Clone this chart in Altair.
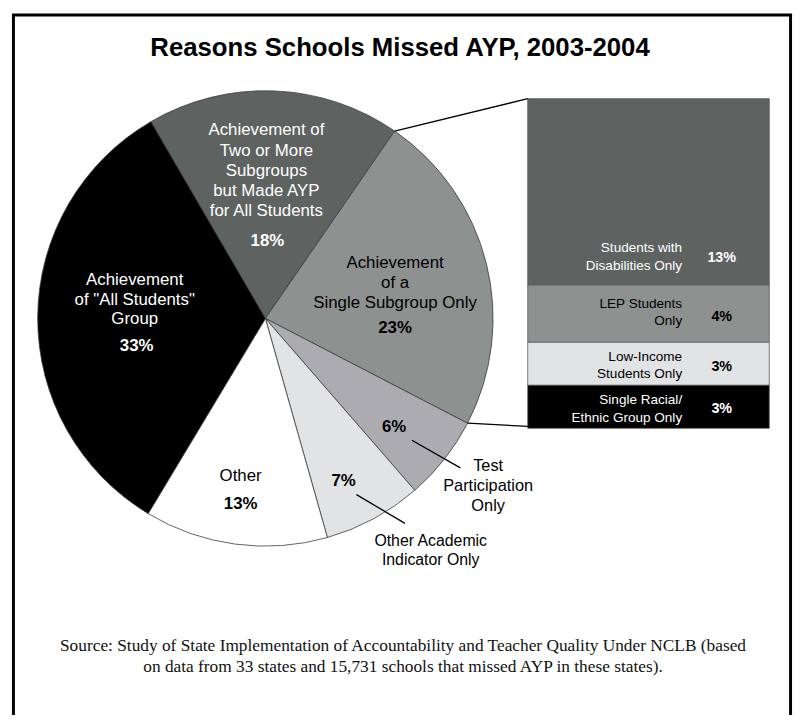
import math
import altair as alt
import pandas as pd

OFF = 8  # page margin

# ---------------- data ----------------
title_text = "Reasons Schools Missed AYP, 2003-2004"
source_lines = [
    "Source: Study of State Implementation of Accountability and Teacher Quality Under NCLB  (based",
    "on data from 33 states and 15,731 schools that missed AYP in these states).",
]

reasons = [
    "Achievement of Two or More Subgroups but Made AYP for All Students",
    "Achievement of a Single Subgroup Only",
    "Test Participation Only",
    "Other Academic Indicator Only",
    "Other",
    'Achievement of "All Students" Group',
]
reason_shares = [18, 23, 6, 7, 13, 33]
reason_colors = ["#5e6261", "#8d9190", "#acabaf", "#e1e3e4", "#ffffff", "#000000"]

subgroups = [
    "Students with Disabilities Only",
    "LEP Students Only",
    "Low-Income Students Only",
    "Single Racial/Ethnic Group Only",
]
subgroup_shares = [13, 4, 3, 3]
subgroup_colors = ["#5e6261", "#8d9190", "#e1e3e4", "#000000"]

# ---------------- layout (page pixels) ----------------
CX, CY, R = 268 - OFF, 318 - OFF, 230
START_DEG = -30.2
BAR_X0, BAR_X1 = 533 - OFF, 777 - OFF
BAR_TOP, BAR_BOTTOM = 96 - OFF, 429 - OFF
W, H = 796, 707

FONT = "Liberation Sans"
SERIF = "Liberation Serif"

start = math.radians(START_DEG)

# ---------------- pie ----------------
pie_df = pd.DataFrame({
    "reason": reasons,
    "share": reason_shares,
    "color": reason_colors,
    "order": list(range(len(reasons))),
})
total = sum(reason_shares)
pie = alt.Chart(pie_df).mark_arc(radius=R, stroke="#3c3c3c", strokeWidth=0.8).encode(
    theta=alt.Theta("share:Q", stack=True,
                    scale=alt.Scale(domain=[0, total], range=[start, start + 2 * math.pi])),
    order=alt.Order("order:Q"),
    color=alt.Color("color:N", scale=None),
    x=alt.value(CX),
    y=alt.value(CY),
)

# ---------------- exploded bar ----------------
bar_total = reason_shares[1]
cum = []
acc = 0
for s in reversed(subgroup_shares):
    cum.append((acc, acc + s))
    acc += s
cum = list(reversed(cum))
bar_df = pd.DataFrame({
    "group": subgroups,
    "share": subgroup_shares,
    "color": subgroup_colors,
    "y0": [c[0] for c in cum],
    "y1": [c[1] for c in cum],
})
yscale = alt.Scale(domain=[0, bar_total], range=[BAR_BOTTOM, BAR_TOP])
bar = alt.Chart(bar_df).mark_rect(stroke="#5a5a5a", strokeWidth=0.8).encode(
    x=alt.value(BAR_X0),
    x2=alt.value(BAR_X1),
    y=alt.Y("y0:Q", scale=yscale, axis=None),
    y2="y1:Q",
    color=alt.Color("color:N", scale=None),
)


def pie_point(frac_cum):
    a = start + 2 * math.pi * frac_cum / total
    return CX + R * math.sin(a), CY - R * math.cos(a)


def bar_y(v):
    return BAR_BOTTOM - (BAR_BOTTOM - BAR_TOP) * v / bar_total


p_top = pie_point(reason_shares[0])
p_bot = pie_point(reason_shares[0] + reason_shares[1])
lines_df = pd.DataFrame([
    # connectors pie -> bar
    {"x": p_top[0], "y": p_top[1], "x2": BAR_X0, "y2": bar_y(bar_total), "w": 1.3},
    {"x": p_bot[0], "y": p_bot[1], "x2": BAR_X0, "y2": bar_y(0) - 2, "w": 1.3},
    # leader lines
    {"x": 416 - OFF, "y": 441 - OFF, "x2": 465 - OFF, "y2": 469 - OFF, "w": 1.3},
    {"x": 360 - OFF, "y": 496 - OFF, "x2": 409 - OFF, "y2": 525 - OFF, "w": 1.3},
    # frame
    {"x": 13.5 - OFF, "y": 11.5 - OFF, "x2": 13.5 - OFF, "y2": 760, "w": 3},
    {"x": 12 - OFF, "y": 11.5 - OFF, "x2": 800 - OFF, "y2": 11.5 - OFF, "w": 3},
    {"x": 798.5 - OFF, "y": 11.5 - OFF, "x2": 798.5 - OFF, "y2": 760, "w": 3},
])
rules = alt.Chart(lines_df).mark_rule(color="#000000").encode(
    x=alt.X("x:Q", scale=None),
    y=alt.Y("y:Q", scale=None),
    x2="x2:Q",
    y2="y2:Q",
    strokeWidth=alt.StrokeWidth("w:Q", scale=None, legend=None),
)

# ---------------- text ----------------
WHITE, BLACK = "#ffffff", "#000000"
center_regular = [
    # (text, x, y, size, color)
    ("Achievement of", 269, 128, 17, WHITE),
    ("Two or More", 269, 148.5, 17, WHITE),
    ("Subgroups", 269, 169, 17, WHITE),
    ("but Made AYP", 269, 189.5, 17, WHITE),
    ("for All Students", 269, 210, 17, WHITE),
    ("Achievement", 136, 279, 17, WHITE),
    ('of "All Students"', 136, 299, 17, WHITE),
    ("Group", 136, 319, 17, WHITE),
    ("Achievement", 399, 262, 17, BLACK),
    ("of a", 399, 282, 17, BLACK),
    ("Single Subgroup Only", 399, 302, 17, BLACK),
    ("Other", 243, 477, 17, BLACK),
    ("Test", 493, 467, 16.5, BLACK),
    ("Participation", 493, 487.5, 16.5, BLACK),
    ("Only", 493, 508, 16.5, BLACK),
    ("Other Academic", 435, 543, 16, BLACK),
    ("Indicator Only", 435, 562.5, 16, BLACK),
]
center_bold = [
    ("18%", 270, 240, 17, WHITE),
    ("33%", 138, 346, 17, WHITE),
    ("23%", 399, 328, 17, BLACK),
    ("13%", 243, 505, 17, BLACK),
    ("7%", 347, 482, 17, BLACK),
    ("6%", 398, 428, 17, BLACK),
    ("13%", 729, 257, 14.5, WHITE),
    ("4%", 729, 317, 14.5, BLACK),
    ("3%", 729, 367, 14.5, BLACK),
    ("3%", 729, 410, 14.5, WHITE),
]
right_regular = [
    ("Students with", 689, 247, 13.7, WHITE),
    ("Disabilities Only", 689, 265, 13.7, WHITE),
    ("LEP Students", 689, 303, 13.7, BLACK),
    ("Only", 689, 321, 13.7, BLACK),
    ("Low-Income", 689, 357, 13.7, BLACK),
    ("Students Only", 689, 374.5, 13.7, BLACK),
    ("Single Racial/", 689, 400, 13.7, WHITE),
    ("Ethnic Group Only", 689, 418.5, 13.7, WHITE),
]


def text_layer(rows, align, weight, font):
    df = pd.DataFrame(rows, columns=["t", "x", "y", "s", "c"])
    df["x"] = df["x"] - OFF
    df["y"] = df["y"] - OFF
    return alt.Chart(df).mark_text(align=align, baseline="middle", font=font, fontWeight=weight).encode(
        x=alt.X("x:Q", scale=None),
        y=alt.Y("y:Q", scale=None),
        text="t:N",
        size=alt.Size("s:Q", scale=None, legend=None),
        color=alt.Color("c:N", scale=None),
    )


title_layer = text_layer([(title_text, 404, 45, 26, BLACK)], "center", "bold", FONT)
source_layer = text_layer(
    [(source_lines[0], 407, 649, 17.5, "#111111"), (source_lines[1], 407, 670, 17.5, "#111111")],
    "center", "normal", SERIF)

chart = alt.layer(
    pie,
    bar,
    rules,
    text_layer(center_regular, "center", "normal", FONT),
    text_layer(center_bold, "center", "bold", FONT),
    text_layer(right_regular, "right", "normal", FONT),
    title_layer,
    source_layer,
).properties(
    width=W, height=H, padding=0, autosize=alt.AutoSizeParams(type="none"), background="#ffffff"
).configure_view(strokeWidth=0)

chart.save("out.html", embed_options={"renderer": "svg", "actions": False})
